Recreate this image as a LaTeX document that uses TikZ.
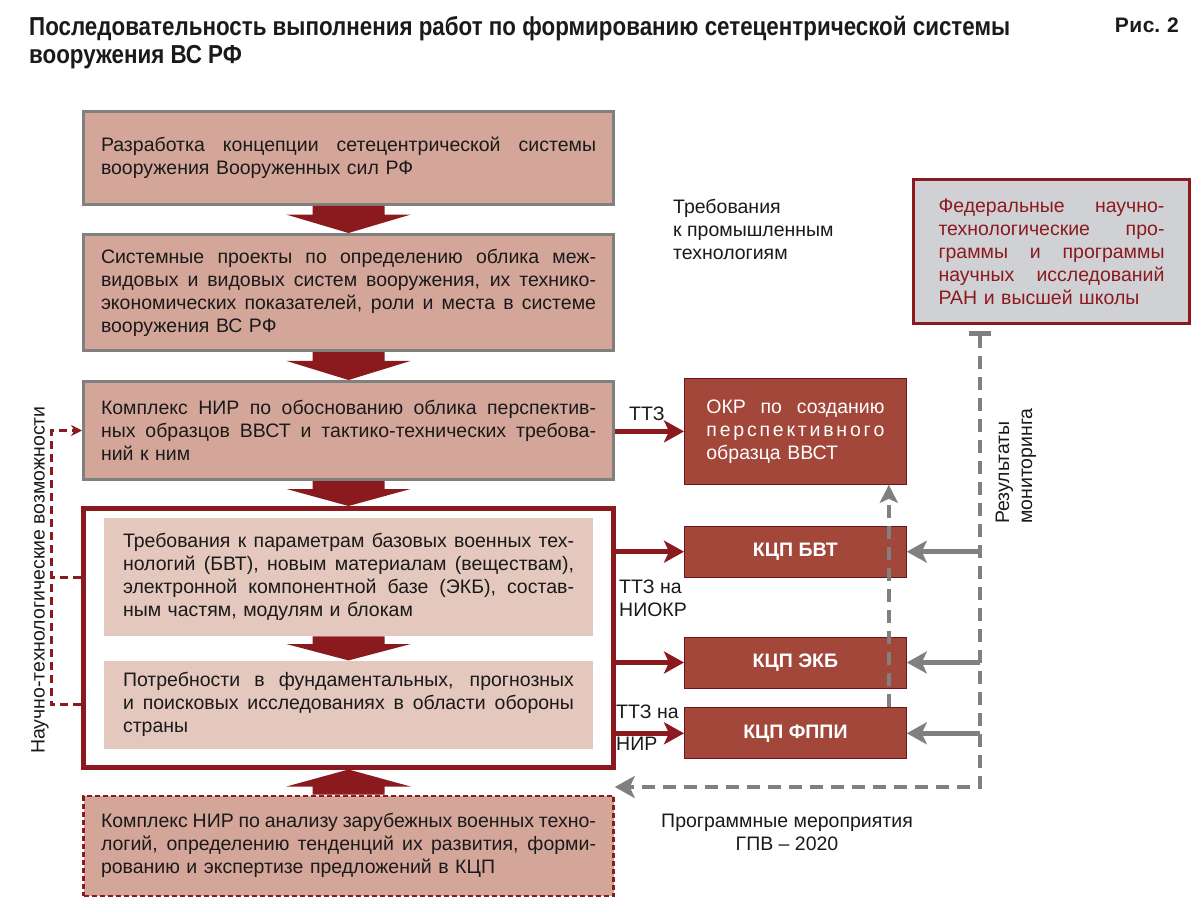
\documentclass[tikz,border=0pt]{standalone}
\usepackage{fontspec}
\setmainfont{Liberation Sans}
\newfontfamily\condfont{Liberation Sans}[FakeStretch=0.86]
\usetikzlibrary{arrows.meta,positioning,calc}
\definecolor{BoxRose}{RGB}{212,166,153}
\definecolor{BoxPale}{RGB}{228,199,189}
\definecolor{BorderGray}{RGB}{128,128,128}
\definecolor{DeepRed}{RGB}{139,26,31}
\definecolor{BrickRed}{RGB}{163,71,59}
\definecolor{PanelGray}{RGB}{208,209,213}
\definecolor{LineGray}{RGB}{128,128,128}
\definecolor{InkBlack}{RGB}{26,26,26}
\newcommand{\bodyfont}{\fontsize{19.5}{23}\selectfont}
% one justified line of a box
\newcommand{\jl}[1]{\leavevmode\hbox to\hsize{\spaceskip=0.3em plus 1fil minus 0.1em #1}\\}
% wide block arrow between two anchors
\newcommand{\fatarrow}[2]{%
  \fill[DeepRed] let \p1=(#1), \p2=(#2) in
    (\x1-36pt,\y1) -- (\x1+36pt,\y1) -- (\x1+36pt,{\y1+(\y2-\y1)*0.32})
    -- (\x1+62pt,{\y1+(\y2-\y1)*0.32}) -- (\x1,\y2)
    -- (\x1-62pt,{\y1+(\y2-\y1)*0.32}) -- (\x1-36pt,{\y1+(\y2-\y1)*0.32}) -- cycle;}

\begin{document}
\begin{tikzpicture}[x=1pt,y=-1pt,
  title/.style={font=\condfont\bfseries\fontsize{26}{28}\selectfont,align=left,inner sep=0pt,text=InkBlack},
  mainbox/.style={rectangle,draw=BorderGray,line width=3pt,fill=BoxRose,minimum width=530pt,text width=495pt,inner xsep=17.5pt,align=left,font=\bodyfont,text=InkBlack},
  frame/.style={rectangle,draw=DeepRed,line width=4.5pt,fill=white,minimum width=530pt,minimum height=259pt},
  innerbox/.style={rectangle,fill=BoxPale,minimum width=489pt,text width=451pt,inner xsep=19pt,align=left,font=\bodyfont,text=InkBlack},
  kcpbox/.style={rectangle,draw=DeepRed!80!black,line width=0.8pt,fill=BrickRed,minimum width=222pt,text=white,font=\bfseries\fontsize{19.5}{23}\selectfont},
  fedbox/.style={rectangle,draw=DeepRed,line width=3pt,fill=PanelGray,minimum width=276pt,minimum height=144pt,text width=226pt,inner xsep=25pt,align=left,font=\bodyfont,text=DeepRed},
  label/.style={font=\bodyfont,text=InkBlack,inner sep=0pt,align=left},
  redarrow/.style={DeepRed,line width=5pt,-{Stealth[length=20pt,width=22pt,inset=5pt]}},
  grayarrow/.style={LineGray,line width=4.5pt,-{Stealth[length=20pt,width=22pt,inset=5pt]}},
  graydash/.style={LineGray,line width=4.5pt,dash pattern=on 13pt off 8pt},
  reddash/.style={DeepRed,line width=3pt,dash pattern=on 8pt off 5pt}
]
  \fill[white] (0,0) rectangle (1200,912);
  \useasboundingbox (0,0) rectangle (1200,912);

  \node[title,anchor=north west] (heading) at (29,16) {Последовательность выполнения работ по формированию сетецентрической системы\\вооружения ВС РФ};
  \node[title,font=\bfseries\fontsize{21}{24}\selectfont,anchor=north east] (fignum) at (1179,18) {Р\kern0.5pt и\kern0.5pt с.\kern1pt\ 2};

  % left column
  \node[mainbox,minimum height=93pt,anchor=north west] (concept) at (82,110) {\jl{Разработка концепции сетецентрической системы}вооружения Вооруженных сил РФ};
  \node[mainbox,minimum height=116pt,below=27pt of concept] (projects) {\jl{Системные проекты по определению облика меж-}\jl{видовых и видовых систем вооружения, их технико-}\jl{экономических показателей, роли и места в системе}вооружения ВС РФ};
  \node[mainbox,minimum height=98pt,below=28pt of projects] (nirbox) {\jl{Комплекс НИР по обоснованию облика перспектив-}\jl{ных образцов ВВСТ и тактико-технических требова-}ний к ним};
  \node[frame,below=25pt of nirbox] (needs) {};
  \node[innerbox,minimum height=118pt,below=12pt of needs.north] (techreq) {\jl{Требования к параметрам базовых военных тех-}\jl{нологий (БВТ), новым материалам (веществам),}\jl{электронной компонентной базе (ЭКБ), состав-}ным частям, модулям и блокам};
  \node[innerbox,minimum height=88pt,below=24pt of techreq] (fundres) {\jl{Потребности в фундаментальных, прогнозных}\jl{и поисковых исследованиях в области обороны}страны};
  \node[mainbox,draw=DeepRed,line width=2.5pt,dash pattern=on 5pt off 3pt,minimum height=100pt,below=25pt of needs] (foreign) {\jl{Комплекс НИР по анализу зарубежных военных техно-}\jl{логий, определению тенденций их развития, форми-}рованию и экспертизе предложений в КЦП};

  \fatarrow{concept.south}{projects.north}
  \fatarrow{projects.south}{nirbox.north}
  \fatarrow{nirbox.south}{needs.north}
  \fatarrow{techreq.south}{fundres.north}
  \fatarrow{foreign.north}{needs.south}

  % right column
  \node[fedbox,anchor=north west] (fed) at (912,178) {\jl{Федеральные научно-}\jl{технологические про-}\jl{граммы и программы}\jl{научных исследований}РАН и высшей школы};
  \node[kcpbox,anchor=north west,minimum height=106pt,text width=178pt,inner xsep=22pt,align=left,font=\bodyfont] (okr) at (684,378) {\jl{ОКР по созданию}\jl{п\hfill е\hfill р\hfill с\hfill п\hfill е\hfill к\hfill т\hfill и\hfill в\hfill н\hfill о\hfill г\hfill о}образца ВВСТ};
  \node[kcpbox,minimum height=51pt,below=41pt of okr] (bvt) {КЦП БВТ};
  \node[kcpbox,minimum height=51pt,below=59pt of bvt] (ekb) {КЦП ЭКБ};
  \node[kcpbox,minimum height=51pt,below=19pt of ekb] (fppi) {КЦП ФППИ};

  \node[label,anchor=north west] (industry) at (673,199) {Требования\\к промышленным\\технологиям};
  \node[label,anchor=south west] (ttz) at (629,421) {ТТЗ};
  \node[label,anchor=north west] (ttzniokr) at (619,580) {ТТЗ на\\НИОКР};
  \node[label,anchor=north west] (ttznir) at (616,705) {ТТЗ на\\[9pt]НИР};
  \node[label,align=center] (program) at (787,832) {Программные мероприятия\\ГПВ – 2020};
  \node[label,rotate=90] (monitor) at (1016,466) {Результаты\\мониторинга};
  \node[label,rotate=90] (scitech) at (40,580) {Научно-технологические возможности};

  % connectors
  \draw[redarrow] (okr.west -| nirbox.east) -- (okr.west);
  \draw[redarrow] (bvt.west -| needs.east) -- (bvt.west);
  \draw[redarrow] (ekb.west -| needs.east) -- (ekb.west);
  \draw[redarrow] (fppi.west -| needs.east) -- (fppi.west);

  \coordinate (montop) at (980,331);
  \coordinate (monbot) at (980,787);
  \draw[graydash,{Bar[width=22pt,line width=5pt]}-{Stealth[length=20pt,width=22pt,inset=5pt]}] (montop) -- (monbot) -- (monbot -| foreign.east);
  \draw[grayarrow] (bvt.east -| montop) -- (bvt.east);
  \draw[grayarrow] (ekb.east -| montop) -- (ekb.east);
  \draw[grayarrow] (fppi.east -| montop) -- (fppi.east);
  \coordinate (upline) at ($(okr.south east)+(-18,0)$);
  \draw[graydash,line width=4pt,-{Stealth[length=18pt,width=18pt,inset=4pt]}] (fppi.north -| upline) -- (upline);

  \coordinate (leftline) at ($(needs.west)+(-30,0)$);
  \draw[reddash] (techreq.west -| needs.west) -- (techreq.west -| leftline);
  \draw[reddash,-{Stealth[length=11pt,width=11pt]}] (fundres.west -| needs.west) -- (fundres.west -| leftline) |- (nirbox.west);
\end{tikzpicture}
\end{document}
